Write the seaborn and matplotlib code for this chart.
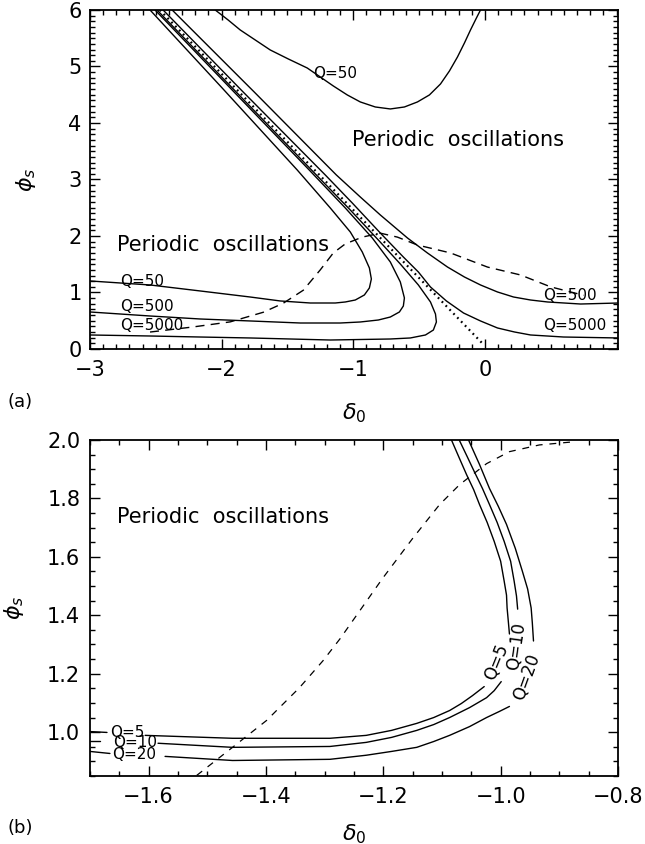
import matplotlib
matplotlib.use("Agg")
import matplotlib.pyplot as plt
from matplotlib.ticker import MultipleLocator
import seaborn as sns

# ---------------- panel (a): delta_0 vs phi_s, Q = 50 / 500 / 5000 ----------------
a_q50_nose_x = [-3.000, -2.544, -2.163, -1.783, -1.555, -1.327, -1.137, -1.061, -0.985,
                -0.916, -0.878, -0.863, -0.878, -0.932, -1.023, -1.175, -1.426, -1.996, -2.544]
a_q50_nose_y = [1.204, 1.133, 1.027, 0.920, 0.850, 0.814, 0.814, 0.832, 0.867,
                0.956, 1.080, 1.239, 1.434, 1.717, 2.071, 2.496, 3.168, 4.619, 6.000]

a_q500_nose_x = [-3.000, -2.544, -2.163, -1.783, -1.403, -1.099, -0.947, -0.810, -0.719,
                 -0.650, -0.620, -0.612, -0.643, -0.719, -0.856, -1.061, -1.335, -1.935, -2.506]
a_q500_nose_y = [0.655, 0.584, 0.531, 0.496, 0.460, 0.460, 0.478, 0.513, 0.566,
                 0.655, 0.761, 0.903, 1.186, 1.540, 1.965, 2.496, 3.168, 4.619, 6.000]

a_q5000_nose_x = [-3.000, -2.544, -2.163, -1.783, -1.175, -0.719, -0.567, -0.452, -0.392,
                  -0.369, -0.376, -0.414, -0.506, -0.643, -0.810, -1.023, -1.281, -1.890, -2.491]
a_q5000_nose_y = [0.248, 0.230, 0.212, 0.195, 0.159, 0.177, 0.195, 0.248, 0.336,
                  0.478, 0.619, 0.832, 1.133, 1.504, 1.929, 2.460, 3.080, 4.549, 6.000]

a_q5000_right_x = [-2.445, -1.837, -1.213, -1.008, -0.795, -0.620, -0.506, -0.414, -0.293,
                   -0.163, -0.034, 0.095, 0.224, 0.346, 0.597, 1.015]
a_q5000_right_y = [6.000, 4.549, 3.080, 2.584, 2.053, 1.628, 1.363, 1.097, 0.850,
                   0.637, 0.496, 0.372, 0.301, 0.248, 0.212, 0.195]

a_q500_right_x = [-2.376, -1.753, -1.129, -0.947, -0.795, -0.589, -0.437, -0.285, -0.156,
                  -0.034, 0.095, 0.217, 0.346, 0.475, 0.726, 1.015]
a_q500_right_y = [6.000, 4.549, 3.080, 2.690, 2.372, 1.965, 1.699, 1.451, 1.274,
                  1.133, 1.009, 0.920, 0.867, 0.832, 0.796, 0.814]

a_q50_upper_x = [-2.049, -1.951, -1.859, -1.745, -1.631, -1.494, -1.350, -1.251, -1.152,
                 -1.046, -0.947, -0.833, -0.719, -0.612, -0.513, -0.422, -0.338, -0.270,
                 -0.209, -0.156, -0.110, -0.065, -0.034]
a_q50_upper_y = [6.000, 5.823, 5.646, 5.469, 5.292, 5.133, 4.973, 4.814, 4.655,
                 4.496, 4.372, 4.283, 4.248, 4.283, 4.372, 4.496, 4.690, 4.920,
                 5.168, 5.416, 5.646, 5.858, 6.000]

a_dashed_x = [-2.544, -2.217, -1.935, -1.684, -1.532, -1.380, -1.251, -1.152, -1.061,
              -0.932, -0.795, -0.665, -0.513, -0.262, 0.019, 0.270, 0.498, 0.750]
a_dashed_y = [0.30, 0.39, 0.48, 0.65, 0.81, 1.04, 1.40, 1.70, 1.86,
              1.98, 2.05, 1.98, 1.84, 1.70, 1.45, 1.31, 1.10, 0.95]

a_dotted_x = [-2.47, -0.02]
a_dotted_y = [6.00, 0.10]

a_xticks = [-3, -2, -1, 0]
a_yticks = [0, 1, 2, 3, 4, 5, 6]

# ---------------- panel (b): zoom, Q = 5 / 10 / 20 ----------------
b_q5_stub_x = [-1.700, -1.671]
b_q5_stub_y = [1.002, 0.999]
b_q5_low_x = [-1.606, -1.457, -1.291, -1.229, -1.186, -1.143, -1.114, -1.087, -1.067, -1.048, -1.028]
b_q5_low_y = [0.989, 0.979, 0.979, 0.989, 1.006, 1.030, 1.050, 1.074, 1.098, 1.125, 1.156]
b_q5_up_x = [-0.985, -0.987, -0.989, -0.990, -0.994, -1.000, -1.011, -1.023, -1.036,
             -1.046, -1.058, -1.070, -1.086]
b_q5_up_y = [1.336, 1.381, 1.425, 1.469, 1.517, 1.585, 1.653, 1.718, 1.779,
             1.830, 1.881, 1.936, 2.010]

b_q10_stub_x = [-1.700, -1.683]
b_q10_stub_y = [0.968, 0.968]
b_q10_low_x = [-1.584, -1.457, -1.291, -1.229, -1.186, -1.143, -1.114, -1.087, -1.053,
               -1.024, -1.011, -0.999]
b_q10_low_y = [0.962, 0.948, 0.951, 0.965, 0.982, 1.006, 1.026, 1.050, 1.084,
               1.118, 1.142, 1.173]
b_q10_up_x = [-0.971, -0.973, -0.977, -0.983, -0.994, -1.006, -1.019, -1.031, -1.045,
              -1.057, -1.073]
b_q10_up_y = [1.421, 1.466, 1.517, 1.585, 1.653, 1.718, 1.779, 1.834, 1.892,
              1.943, 2.010]

b_q20_stub_x = [-1.700, -1.666]
b_q20_stub_y = [0.934, 0.927]
b_q20_low_x = [-1.572, -1.457, -1.291, -1.229, -1.186, -1.143, -1.114, -1.087, -1.053,
               -1.024, -1.002, -0.985]
b_q20_low_y = [0.917, 0.903, 0.907, 0.921, 0.934, 0.948, 0.968, 0.989, 1.019,
               1.050, 1.071, 1.088]
b_q20_up_x = [-0.944, -0.946, -0.948, -0.954, -0.963, -0.975, -0.990, -1.004, -1.019,
              -1.036, -1.057]
b_q20_up_y = [1.312, 1.374, 1.425, 1.490, 1.551, 1.629, 1.711, 1.773, 1.834,
              1.916, 2.010]

b_dashed_x = [-1.518, -1.457, -1.399, -1.343, -1.303, -1.274, -1.201, -1.150, -1.104,
              -1.070, -1.024, -0.985, -0.934, -0.874]
b_dashed_y = [0.852, 0.948, 1.040, 1.152, 1.244, 1.319, 1.527, 1.663, 1.779,
              1.847, 1.919, 1.960, 1.983, 1.994]

b_xticks = [-1.6, -1.4, -1.2, -1.0, -0.8]
b_yticks = [1.0, 1.2, 1.4, 1.6, 1.8, 2.0]

sns.set_style("ticks")
plt.rcParams["font.family"] = ["DejaVu Sans"]
plt.rcParams["mathtext.fontset"] = "dejavusans"
plt.rcParams["text.color"] = "black"
plt.rcParams["axes.labelcolor"] = "black"
plt.rcParams["xtick.color"] = "black"
plt.rcParams["ytick.color"] = "black"


def trace(ax, xs, ys, lw=1.0, **kw):
    """Draw one curve in data order (no sorting, no aggregation)."""
    sns.lineplot(x=xs, y=ys, sort=False, estimator=None, ax=ax,
                 color="black", linewidth=lw, **kw)


def style_axes(ax, minor_x, minor_y, label_pad):
    ax.xaxis.set_minor_locator(MultipleLocator(minor_x))
    ax.yaxis.set_minor_locator(MultipleLocator(minor_y))
    ax.tick_params(which="both", direction="in", top=True, right=True,
                   color="black", labelcolor="black", width=1.0)
    ax.tick_params(which="major", length=7, labelsize=15)
    ax.tick_params(which="minor", length=3.5)
    ax.tick_params(axis="x", which="major", pad=8)
    ax.tick_params(axis="y", which="major", pad=label_pad)
    for sp in ax.spines.values():
        sp.set_linewidth(1.3)
        sp.set_color("black")


fig = plt.figure(figsize=(6.45, 8.44), dpi=100)
ax_a = fig.add_axes([0.1395, 0.5865, 0.8186, 0.4017])
ax_b = fig.add_axes([0.1395, 0.0806, 0.8186, 0.3981])

# ---- (a)
for xs, ys in [(a_q50_nose_x, a_q50_nose_y), (a_q500_nose_x, a_q500_nose_y),
               (a_q5000_nose_x, a_q5000_nose_y), (a_q5000_right_x, a_q5000_right_y),
               (a_q500_right_x, a_q500_right_y), (a_q50_upper_x, a_q50_upper_y)]:
    trace(ax_a, xs, ys)
trace(ax_a, a_dashed_x, a_dashed_y, lw=1.0, linestyle=(0, (6.5, 4.5)))
trace(ax_a, a_dotted_x, a_dotted_y, lw=1.6, linestyle=(0, (0.8, 1.7)))

ax_a.set_xlim(-3, 1.01)
ax_a.set_ylim(0, 6)
ax_a.set_xticks(a_xticks)
ax_a.set_yticks(a_yticks)
style_axes(ax_a, 0.1, 0.1, 6)
ax_a.set_xlabel(r"$\delta_0$", fontsize=16)
ax_a.set_ylabel(r"$\phi_s$", fontsize=16)
ax_a.xaxis.set_label_coords(0.5, -0.155)
ax_a.yaxis.set_label_coords(-0.098, 0.5)

ax_a.text(-1.137, 4.87, "Q=50", fontsize=11, ha="center", va="center")
ax_a.text(-0.202, 3.70, "Periodic  oscillations", fontsize=15, ha="center", va="center")
ax_a.text(-2.795, 1.84, "Periodic  oscillations", fontsize=15, ha="left", va="center")
ax_a.text(-2.772, 1.19, "Q=50", fontsize=11, ha="left", va="center")
ax_a.text(-2.772, 0.76, "Q=500", fontsize=11, ha="left", va="center")
ax_a.text(-2.772, 0.41, "Q=5000", fontsize=11, ha="left", va="center")
ax_a.text(0.445, 0.94, "Q=500", fontsize=11, ha="left", va="center")
ax_a.text(0.445, 0.42, "Q=5000", fontsize=11, ha="left", va="center")

# ---- (b)
for xs, ys in [(b_q5_stub_x, b_q5_stub_y), (b_q5_low_x, b_q5_low_y), (b_q5_up_x, b_q5_up_y),
               (b_q10_stub_x, b_q10_stub_y), (b_q10_low_x, b_q10_low_y), (b_q10_up_x, b_q10_up_y),
               (b_q20_stub_x, b_q20_stub_y), (b_q20_low_x, b_q20_low_y), (b_q20_up_x, b_q20_up_y)]:
    trace(ax_b, xs, ys)
trace(ax_b, b_dashed_x, b_dashed_y, lw=0.9, linestyle=(0, (5.5, 5.5)))

ax_b.set_xlim(-1.7, -0.8)
ax_b.set_ylim(0.85, 2.0)
ax_b.set_xticks(b_xticks)
ax_b.set_yticks(b_yticks)
ax_b.set_xticklabels([f"{v:.1f}".replace("-", "\u2212") for v in b_xticks])
ax_b.set_yticklabels([f"{v:.1f}" for v in b_yticks])
style_axes(ax_b, 0.05, 0.05, 7)
ax_b.set_xlabel(r"$\delta_0$", fontsize=16)
ax_b.set_ylabel(r"$\phi_s$", fontsize=16)
ax_b.xaxis.set_label_coords(0.5, -0.137)
ax_b.yaxis.set_label_coords(-0.122, 0.5)

ax_b.text(-1.654, 1.735, "Periodic  oscillations", fontsize=15, ha="left", va="center")
ax_b.text(-1.666, 1.000, "Q=5", fontsize=11, ha="left", va="center")
ax_b.text(-1.661, 0.966, "Q=10", fontsize=11, ha="left", va="center")
ax_b.text(-1.663, 0.925, "Q=20", fontsize=11, ha="left", va="center")
ax_b.text(-1.007, 1.241, "Q=5", fontsize=12, ha="center", va="center", rotation=68)
ax_b.text(-0.973, 1.295, "Q=10", fontsize=12, ha="center", va="center", rotation=82)
ax_b.text(-0.956, 1.187, "Q=20", fontsize=12, ha="center", va="center", rotation=70)

fig.text(0.031, 0.524, "(a)", fontsize=13, ha="center", va="center")
fig.text(0.031, 0.019, "(b)", fontsize=13, ha="center", va="center")

fig.savefig("out.png", dpi=100)
